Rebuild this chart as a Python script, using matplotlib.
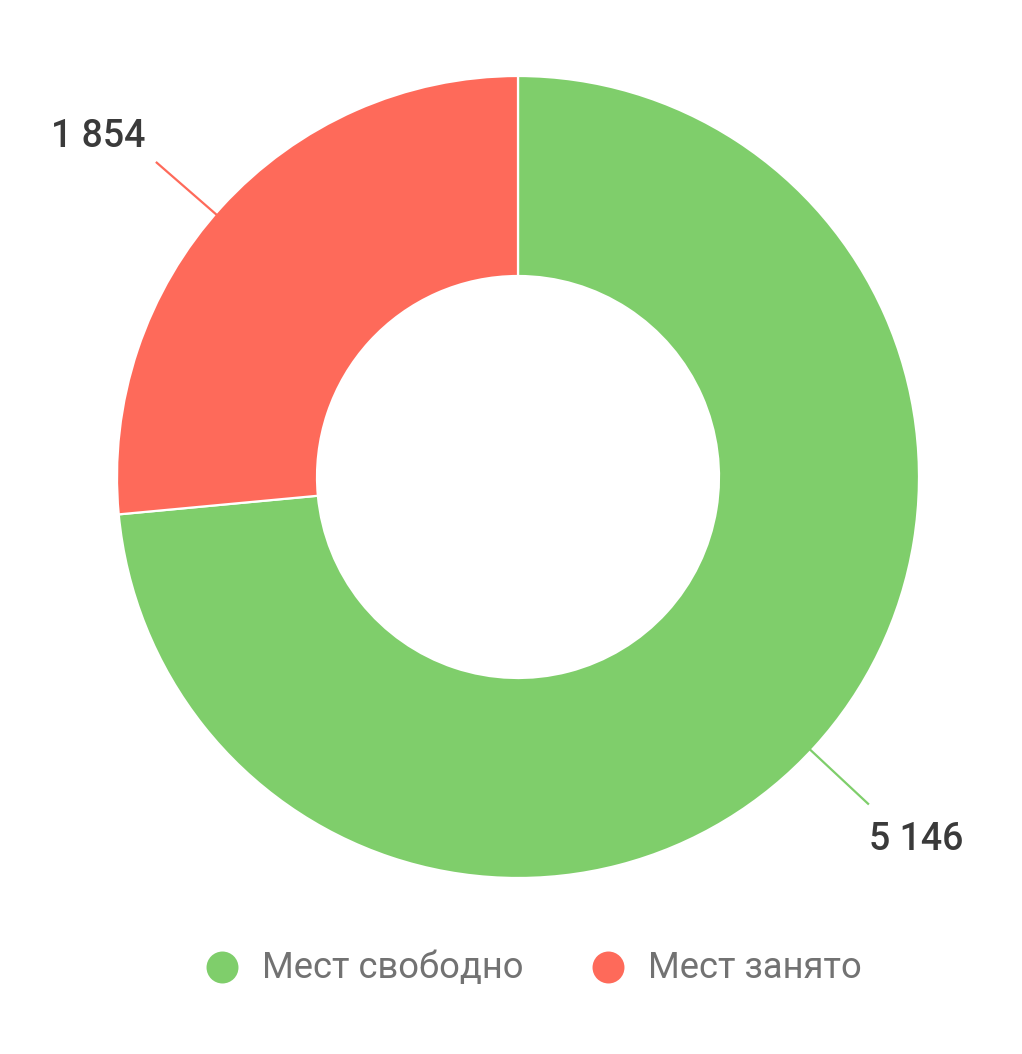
import numpy as np
import matplotlib
matplotlib.use("Agg")
import matplotlib.pyplot as plt

categories = ["Мест свободно", "Мест занято"]
values = [5146, 1854]
value_labels = ["5 146", "1 854"]
colors = ["#7fce6b", "#fe6a5a"]

plt.rcParams['font.family'] = ['Roboto', 'DejaVu Sans']

W, H = 1022, 1054
fig = plt.figure(figsize=(W / 100, H / 100), dpi=100)
fig.patch.set_facecolor("white")
ax = fig.add_axes([0, 0, 1, 1])

cx, cy = 518, H - 477
R = 401
ring = 200

wedges, _ = ax.pie(values, colors=colors, startangle=90, counterclock=False,
                   radius=R, center=(cx, cy),
                   wedgeprops=dict(width=ring, edgecolor="white", linewidth=1.6))

ax.set_xlim(0, W)
ax.set_ylim(0, H)
ax.set_aspect("equal")
ax.axis("off")

# leader lines + value labels
total = sum(values)
start = 90.0
angle_adj = {0: -0.7, 1: 1.3}
text_offsets = {0: (0, -35, "left"), 1: (-11, 25, "right")}
for i, v in enumerate(values):
    sweep = 360.0 * v / total
    mid = np.deg2rad(start - sweep / 2 + angle_adj[i])
    start -= sweep
    x0, y0 = cx + (R - 6) * np.cos(mid), cy + (R - 6) * np.sin(mid)
    x1, y1 = cx + 480 * np.cos(mid), cy + 480 * np.sin(mid)
    ax.plot([x0, x1], [y0, y1], color=colors[i], lw=1.6, solid_capstyle="butt")
    dx, dy, ha = text_offsets[i]
    ax.text(x1 + dx, y1 + dy, value_labels[i], ha=ha, va="center",
            fontsize=27, color="#3a3a3a", fontweight="medium")

# legend
leg_y = H - 967
leg_x = [222, 608]
for i, cat in enumerate(categories):
    ax.plot([leg_x[i]], [leg_y], marker="o", markersize=23, color=colors[i],
            markeredgewidth=0, linestyle="none")
    ax.text(leg_x[i] + 40, leg_y - 1, cat, ha="left", va="center",
            fontsize=26.2, color="#727272")

fig.savefig("out.png", dpi=100, facecolor="white")
